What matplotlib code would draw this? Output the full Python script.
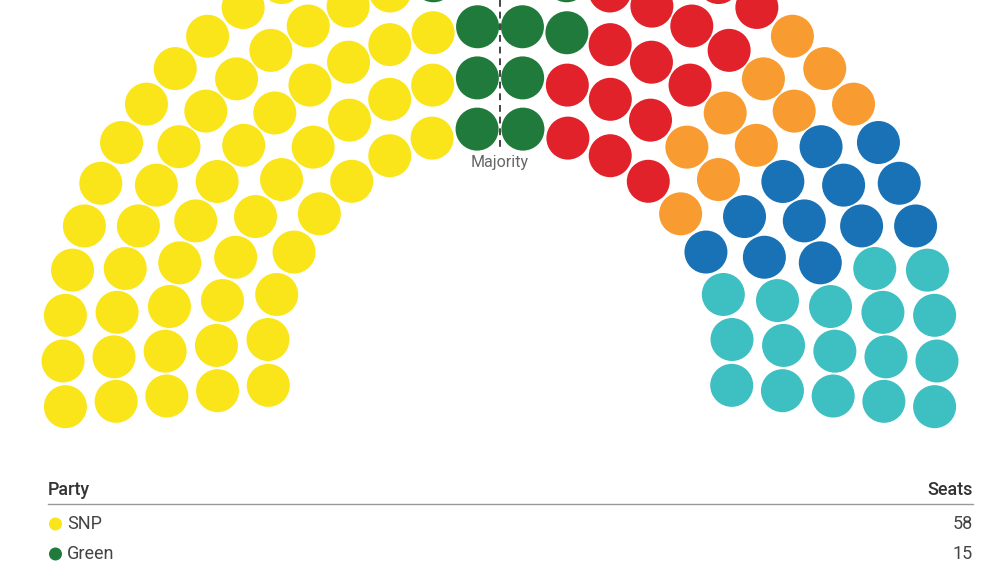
import numpy as np
import matplotlib
matplotlib.use("Agg")
import matplotlib.pyplot as plt
from matplotlib.patches import Circle

# ---- data ----
parties = ["SNP", "Green", "Labour", "Lib Dem", "Conservative", "Reform"]
seats = [58, 15, 17, 10, 12, 17]
colors = ["#F9E51A", "#1F7A3B", "#E1222B", "#F89C31", "#1A72B6", "#3EBFC2"]
legend_parties = ["SNP", "Green"]
legend_seats = [58, 15]

plt.rcParams['font.family'] = ['Roboto', 'DejaVu Sans']

W, H = 1000, 563
fig = plt.figure(figsize=(W / 100, H / 100), dpi=100)
ax = fig.add_axes([0, 0, 1, 1])
ax.set_xlim(0, W)
ax.set_ylim(H, 0)
ax.axis('off')

# ---- parliament layout ----
cx, cy = 500, 361
radii = [233, 284, 335, 386, 437]
row_counts = [18, 22, 26, 30, 33]
a0, a1 = -6.0, 186.0
dot_r = 21.5

seat_list = []
for r, n in zip(radii, row_counts):
    for phi in np.linspace(a0, a1, n):
        seat_list.append((phi, r))
seat_list.sort(key=lambda s: (round(s[0], 6), s[1]))

owner = []
for p, s in zip(range(len(parties)), seats):
    owner += [p] * s

for (phi, r), p in zip(seat_list, owner):
    t = np.deg2rad(phi)
    x = cx - r * np.cos(t)
    y = cy - r * np.sin(t)
    ax.add_patch(Circle((x, y), dot_r, facecolor=colors[p], edgecolor='none'))

# majority line
ax.plot([500, 500], [0, 148], color='#444444', lw=1.4, ls=(0, (3.5, 2.5)), zorder=5)
ax.text(500, 162, "Majority", ha='center', va='center', fontsize=11.5, color='#666666')

# ---- table ----
left, right = 48, 973
ax.text(left, 490, "Party", ha='left', va='center', fontsize=13,
        color='#333333', fontweight='medium')
ax.text(right, 490, "Seats", ha='right', va='center', fontsize=13,
        color='#333333', fontweight='medium')
ax.plot([left, right], [504, 504], color='#9a9a9a', lw=1)

row_y = [524, 554]
for name, val, y in zip(legend_parties, legend_seats, row_y):
    c = colors[parties.index(name)]
    ax.add_patch(Circle((55.5, y), 6.5, facecolor=c, edgecolor='none'))
    ax.text(67, y, name, ha='left', va='center', fontsize=13, color='#444444')
    ax.text(right, y, str(val), ha='right', va='center', fontsize=13, color='#444444')

fig.savefig("out.png", dpi=100)
